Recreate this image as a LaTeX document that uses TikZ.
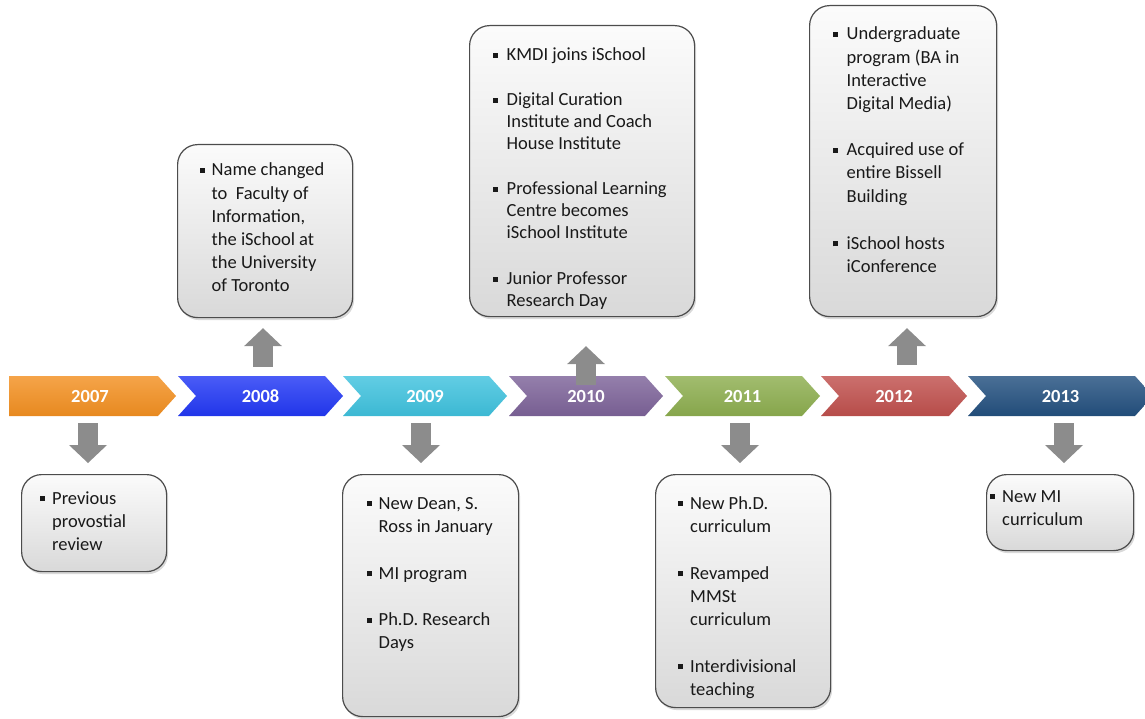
\documentclass[tikz,border=0pt]{standalone}
\usepackage{fontspec}
\setmainfont{Carlito}
\usepackage{tikz}
\usetikzlibrary{arrows.meta,shadows}

\definecolor{yr2007}{HTML}{F39021}
\definecolor{yr2008}{HTML}{2238F5}
\definecolor{yr2009}{HTML}{3FC2DE}
\definecolor{yr2010}{HTML}{7D6399}
\definecolor{yr2011}{HTML}{8DAE4F}
\definecolor{yr2012}{HTML}{C0504D}
\definecolor{yr2013}{HTML}{23507F}

\newcommand\bul{\rule[3pt]{5pt}{5pt}}

\begin{document}
\begin{tikzpicture}[
    x=1pt, y=-1pt,
    chevron/.style={top color=#1!82!white, bottom color=#1!95!black},
    yearlbl/.style={text=white, font=\bfseries\fontsize{18.5}{20}\selectfont, minimum height=40pt, inner sep=0pt},
    evbox/.style={draw=black!70, line width=1.2pt, rounded corners=20pt, top color=gray!3, bottom color=gray!30,
        drop shadow={opacity=0.3, shadow xshift=1.5pt, shadow yshift=-2.5pt}, anchor=north west, inner sep=0pt},
    evtext/.style={anchor=base west, inner sep=0pt, text=black!90, font=\fontsize{18.5}{23.2}\selectfont},
    evarrow/.style={draw=black!45, line width=20pt, -{Triangle[width=38pt,length=18pt,line width=0pt]}}
]
    \useasboundingbox (0,0) rectangle (1145,719);
    \clip (0,0) rectangle (1145,719);

    % timeline
    \path[chevron=yr2007] (9,376) -- (158,376) -- (176,396) -- (158,416) -- (9,416) -- cycle;
    \path[chevron=yr2008] (178,376) -- (325,376) -- (343,396) -- (325,416) -- (178,416) -- (196,396) -- cycle;
    \path[chevron=yr2009] (343,376) -- (489,376) -- (507,396) -- (489,416) -- (343,416) -- (361,396) -- cycle;
    \path[chevron=yr2010] (509,376) -- (645,376) -- (663,396) -- (645,416) -- (509,416) -- (527,396) -- cycle;
    \path[chevron=yr2011] (665,376) -- (802,376) -- (820,396) -- (802,416) -- (665,416) -- (683,396) -- cycle;
    \path[chevron=yr2012] (821,376) -- (949,376) -- (967,396) -- (949,416) -- (821,416) -- (839,396) -- cycle;
    \path[chevron=yr2013] (968,376) -- (1135,376) -- (1153,396) -- (1135,416) -- (968,416) -- (986,396) -- cycle;

    \node[yearlbl] (y2007) at (90,396) {2007};
    \node[yearlbl] (y2008) at (260.5,396) {2008};
    \node[yearlbl] (y2009) at (425,396) {2009};
    \node[yearlbl] (y2010) at (586,396) {2010};
    \node[yearlbl] (y2011) at (742.5,396) {2011};
    \node[yearlbl] (y2012) at (894,396) {2012};
    \node[yearlbl] (y2013) at (1060.5,396) {2013};

    % events above the line
    \node[evbox, minimum width=175, minimum height=173] (b2008) at (177,144) {};
    \node[evtext] (t2008) at (200,176) {\begin{tabular}[t]{@{}l@{\hspace{6.5pt}}l@{}}
        \bul & Name changed\\
             & to\ \ Faculty of\\
             & Information,\\
             & the iSchool at\\
             & the University\\
             & of Toronto
    \end{tabular}};

    \node[evbox, minimum width=225, minimum height=291] (b2010) at (469,25) {};
    \node[evtext, font=\fontsize{18.5}{22}\selectfont] (t2010) at (493,61) {\begin{tabular}[t]{@{}l@{\hspace{8.5pt}}l@{}}
        \bul & KMDI joins iSchool\\[23pt]
        \bul & Digital Curation\\
             & Institute and Coach\\
             & House Institute\\[23pt]
        \bul & Professional Learning\\
             & Centre becomes\\
             & iSchool Institute\\[24pt]
        \bul & Junior Professor\\
             & Research Day
    \end{tabular}};

    \node[evbox, minimum width=187, minimum height=311] (b2012) at (809,5) {};
    \node[evtext] (t2012) at (833,40) {\begin{tabular}[t]{@{}l@{\hspace{8.5pt}}l@{}}
        \bul & Undergraduate\\
             & program (BA in\\
             & Interactive\\
             & Digital Media)\\[23pt]
        \bul & Acquired use of\\
             & entire Bissell\\
             & Building\\[24pt]
        \bul & iSchool hosts\\
             & iConference
    \end{tabular}};

    % events below the line
    \node[evbox, minimum width=145, minimum height=97] (b2007) at (21,474) {};
    \node[evtext] (t2007) at (40,504) {\begin{tabular}[t]{@{}l@{\hspace{7pt}}l@{}}
        \bul & Previous\\
             & provostial\\
             & review
    \end{tabular}};

    \node[evbox, minimum width=176, minimum height=242] (b2009) at (342,474) {};
    \node[evtext] (t2009) at (367,509) {\begin{tabular}[t]{@{}l@{\hspace{6.5pt}}l@{}}
        \bul & New Dean, S.\\
             & Ross in January\\[24pt]
        \bul & MI program\\[23pt]
        \bul & Ph.D. Research\\
             & Days
    \end{tabular}};

    \node[evbox, minimum width=175, minimum height=233] (b2011) at (655,474) {};
    \node[evtext] (t2011) at (678,509) {\begin{tabular}[t]{@{}l@{\hspace{7pt}}l@{}}
        \bul & New Ph.D.\\
             & curriculum\\[24pt]
        \bul & Revamped\\
             & MMSt\\
             & curriculum\\[23pt]
        \bul & Interdivisional\\
             & teaching
    \end{tabular}};

    \node[evbox, minimum width=147, minimum height=76] (b2013) at (986,474) {};
    \node[evtext] (t2013) at (990,502) {\begin{tabular}[t]{@{}l@{\hspace{7pt}}l@{}}
        \bul & New MI\\
             & curriculum
    \end{tabular}};

    % block arrows
    \draw[evarrow, shorten <=7pt, shorten >=11pt] (y2007.south -| 88,0) -- (b2007.north -| 88,0);
    \draw[evarrow, shorten <=9pt, shorten >=10pt] (y2008.north -| 263,0) -- (b2008.south -| 263,0);
    \draw[evarrow, shorten <=7pt, shorten >=11pt] (y2009.south -| 421,0) -- (b2009.north -| 421,0);
    \draw[evarrow, shorten <=11pt, shorten >=29pt] (y2010.center -| 586,0) -- (b2010.south -| 586,0);
    \draw[evarrow, shorten <=7pt, shorten >=11pt] (y2011.south -| 740,0) -- (b2011.north -| 740,0);
    \draw[evarrow, shorten <=11pt, shorten >=11pt] (y2012.north -| 907,0) -- (b2012.south -| 907,0);
    \draw[evarrow, shorten <=7pt, shorten >=11pt] (y2013.south -| 1064,0) -- (b2013.north -| 1064,0);
\end{tikzpicture}
\end{document}
